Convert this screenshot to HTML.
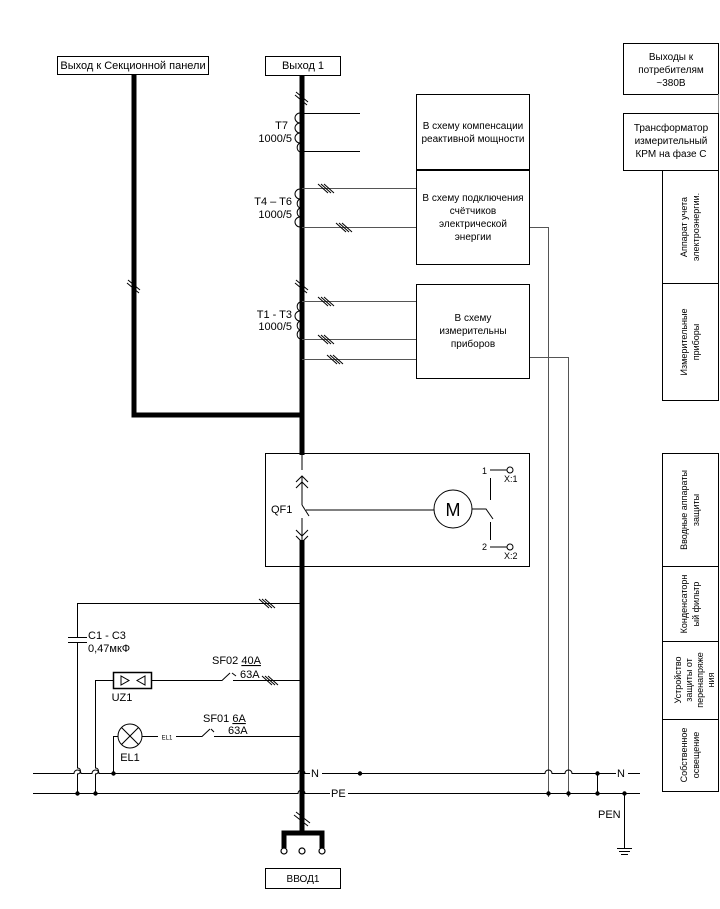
<!DOCTYPE html>
<html><head><meta charset="utf-8"><style>
html,body{margin:0;padding:0;background:#fff;}
svg{display:block;font-family:"Liberation Sans","Noto Sans CJK SC",sans-serif;}
</style></head><body>
<svg width="720" height="909" viewBox="0 0 720 909" xmlns="http://www.w3.org/2000/svg">
<rect width="720" height="909" fill="#fff"/>
<g fill="none" stroke="#000" stroke-width="1">
<rect x="57.5" y="56.5" width="151" height="18"/>
<rect x="265.5" y="56.5" width="75" height="19"/>
</g>
<g font-size="11" text-anchor="middle" fill="#000">
<text x="133" y="69">Выход к Секционной панели</text>
<text x="303" y="69">Выход 1</text>
</g>
<g stroke="#000" stroke-width="5" fill="none">
<path d="M302 75 V455"/>
<path d="M302 540 V832"/>
<path d="M134 74 V415 H302"/>
<path d="M284 848 V833 H322 V848"/>
</g>
<g fill="#fff" stroke="#000" stroke-width="1.2">
<circle cx="284" cy="851" r="3"/><circle cx="302" cy="851" r="3"/><circle cx="322" cy="851" r="3"/>
</g>
<g stroke="#000" stroke-width="1">
<path d="M296 92 L308 102 M295 95 L307 105"/>
<path d="M296 280 L308 290 M295 283 L307 293"/>
<path d="M128 280 L140 290 M127 283 L139 293"/>
<path d="M296 812 L310 823 M294 815 L308 826"/>
</g>
<g fill="none" stroke="#000" stroke-width="1">
<path d="M300 113 a5 5 0 0 0 0 10 a5 5 0 0 0 0 10 a5 5 0 0 0 0 10 a5 5 0 0 0 0 9"/>
<path d="M300 189 a5 5 0 0 0 0 10 a5 5 0 0 0 0 9 a5 5 0 0 0 0 9 a5 5 0 0 0 0 10"/>
<path d="M300 302 a5 5 0 0 0 0 9 a5 5 0 0 0 0 10 a5 5 0 0 0 0 9 a5 5 0 0 0 0 9"/>
</g>
<g font-size="11" text-anchor="end" fill="#000">
<text x="288" y="129">T7</text><text x="292" y="142">1000/5</text>
<text x="292" y="205">T4 – T6</text><text x="292" y="218">1000/5</text>
<text x="292" y="318">T1 - T3</text><text x="292" y="330">1000/5</text>
</g>
<g stroke="#000" stroke-width="1"><path d="M302 113.5 H360 M302 151.5 H360"/></g>
<g stroke="#555" stroke-width="1" fill="none">
<path d="M302 188.5 H416"/>
<path d="M302 227.5 H416"/>
<path d="M530 227.5 H548.5 V797"/>
<path d="M302 301.5 H416"/>
<path d="M302 339.5 H416"/>
<path d="M302 359.5 H416"/>
<path d="M530 357.5 H568.5 V797"/>
</g>
<g stroke="#000" stroke-width="1">
<path d="M318 184 L328 193 M321 184 L331 193 M324 184 L334 193"/>
<path d="M336 223 L346 232 M339 223 L349 232 M342 223 L352 232"/>
<path d="M318 297 L328 306 M321 297 L331 306 M324 297 L334 306"/>
<path d="M318 335 L328 344 M321 335 L331 344 M324 335 L334 344"/>
<path d="M327 355 L337 364 M330 355 L340 364 M333 355 L343 364"/>
</g>
<g fill="none" stroke="#000" stroke-width="1">
<rect x="416.5" y="94.5" width="113" height="75"/>
<rect x="416.5" y="170.5" width="113" height="94"/>
<rect x="416.5" y="284.5" width="113" height="94"/>
</g>
<g font-size="10" text-anchor="middle" fill="#000">
<text x="473" y="129">В схему компенсации</text>
<text x="473" y="142">реактивной мощности</text>
<text x="473" y="201">В схему подключения</text>
<text x="473" y="214">счётчиков</text>
<text x="473" y="227">электрической</text>
<text x="473" y="240">энергии</text>
<text x="473" y="321">В схему</text>
<text x="473" y="334">измерительны</text>
<text x="473" y="347">приборов</text>
</g>
<rect x="265.5" y="453.5" width="264" height="113" fill="none" stroke="#000" stroke-width="1"/>
<g stroke="#000" stroke-width="1" fill="none">
<path d="M302 454 V470"/>
<path d="M296 482 L302 476 L308 482 M296 488 L302 482 L308 488"/>
<path d="M302 476 V505 M302 518 V540"/>
<path d="M302 505 L309 516"/>
<path d="M296 530 L302 536 L308 530 M296 536 L302 542 L308 536"/>
<path d="M306 510 H434"/>
<circle cx="453" cy="509" r="19"/>
<path d="M472 509 H486 L493 519"/>
<path d="M490.5 478 V500 M490.5 522 V540"/>
<path d="M490 470 H507 M490 547 H507"/>
<circle cx="510" cy="470" r="3"/><circle cx="510" cy="547" r="3"/>
</g>
<text x="453" y="516" font-size="18" text-anchor="middle">M</text>
<g font-size="9" fill="#000">
<text x="487" y="474" text-anchor="end">1</text>
<text x="487" y="550" text-anchor="end">2</text>
<text x="504" y="482">X:1</text>
<text x="504" y="559">X:2</text>
</g>
<text x="271" y="513" font-size="11">QF1</text>
<g stroke="#000" stroke-width="1" fill="none">
<path d="M302 603.5 H77.5 V637 M77.5 642 V768 a3 3 0 0 1 0 6 V793"/>
<path d="M68 637.5 H87 M68 642.5 H87"/>
<path d="M259 599 L269 608 M262 599 L272 608 M265 599 L275 608"/>
<rect x="113.5" y="672.5" width="38" height="16" stroke-width="1.5"/>
<path d="M121 676 V685 L129 680.5 Z M145 676 V685 L137 680.5 Z"/>
<path d="M113 680.5 H95.5 V768 a3 3 0 0 1 0 6 V793"/>
<path d="M152 680.5 H222 L230 673 M232 673 L236 676 M233 680.5 H302"/>
<path d="M262 676 L272 685 M265 676 L275 685 M268 676 L278 685"/>
<circle cx="130" cy="736" r="12"/>
<path d="M121.5 727.5 L138.5 744.5 M138.5 727.5 L121.5 744.5"/>
<path d="M118 736.5 H113.5 V773"/>
<path d="M142 736.5 H158 M176 736.5 H202 L210 729 M211 729 L214 732 M214 736.5 H302"/>
<path d="M33 773.5 H74 a3 3 0 0 1 7 0 H92 a3 3 0 0 1 7 0 H298 a3 3 0 0 1 7 0 H310 M322 773.5 H545 a3 3 0 0 1 7 0 H565 a3 3 0 0 1 7 0 H616 M628 773.5 H640"/>
<path d="M33 793.5 H298 a3 3 0 0 1 7 0 H330 M348 793.5 H640"/>
<path d="M597.5 773 V793 M624.5 793 V848 M617 848.5 H632 M619 851.5 H630 M621 854.5 H628"/>
</g>
<g fill="#000">
<circle cx="113.5" cy="773.5" r="2.2"/><circle cx="77.5" cy="793.5" r="2.2"/><circle cx="95.5" cy="793.5" r="2.2"/>
<circle cx="360" cy="773.5" r="2.2"/><circle cx="548.5" cy="793.5" r="2.2"/><circle cx="568.5" cy="793.5" r="2.2"/>
<circle cx="597.5" cy="773.5" r="2.2"/><circle cx="597.5" cy="793.5" r="2.2"/><circle cx="624.5" cy="793.5" r="2.2"/>
<circle cx="302" cy="680.5" r="2"/><circle cx="302" cy="736.5" r="2"/>
</g>
<g font-size="11" fill="#000">
<text x="88" y="639">C1 - C3</text>
<text x="88" y="652">0,47мкФ</text>
<text x="122" y="701" text-anchor="middle">UZ1</text>
<text x="130" y="761" text-anchor="middle">EL1</text>
<text x="212" y="664">SF02 <tspan text-decoration="underline">40A</tspan></text>
<text x="240" y="678">63A</text>
<text x="203" y="722">SF01 <tspan text-decoration="underline">6A</tspan></text>
<text x="228" y="734">63A</text>
<text x="311" y="777">N</text>
<text x="331" y="797">PE</text>
<text x="617" y="777">N</text>
<text x="598" y="818">PEN</text>
</g>
<text x="167" y="739.5" font-size="6" text-anchor="middle">EL1</text>
<rect x="265.5" y="868.5" width="75" height="20" fill="none" stroke="#000"/>
<text x="303" y="882" font-size="10" text-anchor="middle">ВВОД1</text>
<g fill="none" stroke="#000" stroke-width="1">
<rect x="623.5" y="43.5" width="95" height="51"/>
<rect x="623.5" y="113.5" width="95" height="57"/>
<rect x="662.5" y="170.5" width="56" height="113"/>
<rect x="662.5" y="283.5" width="56" height="117"/>
<rect x="662.5" y="453.5" width="56" height="113"/>
<rect x="662.5" y="566.5" width="56" height="75"/>
<rect x="662.5" y="641.5" width="56" height="78"/>
<rect x="662.5" y="719.5" width="56" height="72"/>
</g>
<path d="M718.5 94 V113" stroke="#888"/>
<g font-size="10" text-anchor="middle" fill="#000">
<text x="671" y="60">Выходы к</text>
<text x="671" y="73">потребителям</text>
<text x="671" y="86">~380В</text>
<text x="671" y="131">Трансформатор</text>
<text x="671" y="144">измерительный</text>
<text x="671" y="157">КРМ на фазе С</text>
</g>
<g font-size="9" text-anchor="middle" fill="#000">
<g transform="translate(690,227) rotate(-90)"><text x="0" y="-3">Аппарат учета</text><text x="0" y="9">электроэнергии.</text></g>
<g transform="translate(690,342) rotate(-90)"><text x="0" y="-3">Измерительные</text><text x="0" y="9">приборы</text></g>
<g transform="translate(690,510) rotate(-90)"><text x="0" y="-3">Вводные аппараты</text><text x="0" y="9">защиты</text></g>
<g transform="translate(690,604) rotate(-90)"><text x="0" y="-3">Конденсаторн</text><text x="0" y="9">ый фильтр</text></g>
<g transform="translate(690,680) rotate(-90)"><text x="0" y="-9">Устройство</text><text x="0" y="2">защиты от</text><text x="0" y="13">перенапряже</text><text x="0" y="24">ния</text></g>
<g transform="translate(690,755) rotate(-90)"><text x="0" y="-3">Собственное</text><text x="0" y="9">освещение</text></g>
</g>
</svg>
</body></html>
